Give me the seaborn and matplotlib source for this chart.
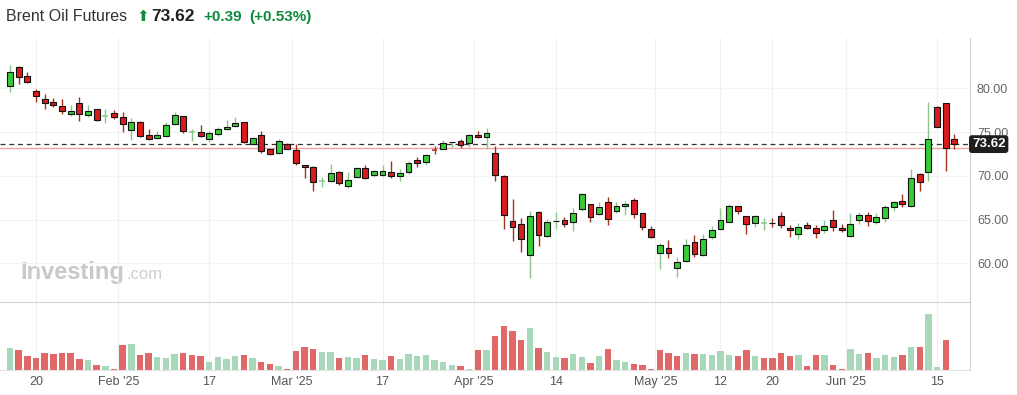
import numpy as np
import pandas as pd
import seaborn as sns
import matplotlib.pyplot as plt

# daily OHLC, one entry per session (mid Jan -> 17 Jun 2025)
open_ = [80.26, 82.40, 81.41, 79.66, 78.74, 78.40, 77.94, 77.10, 78.29, 76.91,
         77.60, 76.83, 77.14, 76.69, 75.27, 76.15, 74.63, 74.29, 74.51, 75.89,
         76.80, 75.00, 74.97, 74.24, 74.81, 75.31, 75.66, 76.11, 73.67, 74.63,
         73.03, 72.57, 73.63, 72.91, 71.20, 70.97, 69.44, 69.37, 70.43, 68.87,
         69.83, 70.86, 70.06, 70.06, 70.40, 69.94, 70.40, 71.81, 71.61, 72.92,
         73.10, 73.86, 73.98, 73.71, 74.66, 74.40, 72.61, 69.98, 64.83, 64.46,
         60.98, 65.86, 63.09, 64.83, 64.95, 64.69, 66.17, 66.74, 65.67, 66.97,
         66.01, 66.51, 67.20, 65.71, 63.95, 61.14, 61.71, 59.43, 60.26, 62.40,
         60.91, 62.97, 63.95, 64.75, 66.51, 65.37, 64.57, 64.64, 64.66, 65.37,
         64.03, 63.38, 64.38, 64.03, 63.77, 64.91, 64.00, 63.09, 64.98, 65.49,
         64.69, 65.14, 66.47, 67.09, 66.51, 70.17, 70.40, 77.86, 78.29, 74.24]
high = [82.66, 82.58, 81.83, 79.92, 79.35, 78.86, 78.78, 78.09, 78.97, 78.09,
        77.63, 77.63, 77.52, 77.29, 76.60, 76.26, 75.31, 75.12, 76.15, 77.29,
        76.80, 75.35, 75.81, 75.12, 75.58, 76.34, 76.75, 76.15, 74.40, 75.15,
        73.06, 74.17, 73.75, 73.67, 71.27, 71.12, 69.90, 71.35, 70.55, 70.43,
        70.97, 71.27, 70.66, 71.23, 71.69, 70.78, 71.66, 72.15, 72.53, 73.44,
        74.09, 73.92, 74.21, 74.78, 75.15, 75.50, 73.41, 70.09, 67.35, 65.21,
        66.01, 65.98, 65.06, 65.86, 65.26, 66.29, 68.00, 66.78, 67.00, 67.58,
        66.97, 67.09, 67.46, 65.75, 64.26, 62.35, 62.63, 60.69, 62.78, 63.23,
        63.35, 64.26, 66.32, 66.78, 66.58, 65.44, 65.55, 65.21, 65.17, 65.86,
        64.41, 64.64, 64.69, 64.38, 64.91, 66.09, 64.53, 65.71, 65.83, 65.86,
        65.71, 66.63, 67.12, 67.92, 70.78, 70.32, 78.47, 77.98, 78.29, 74.81]
low = [79.60, 80.46, 80.57, 78.47, 77.67, 77.90, 77.06, 76.87, 76.30, 76.75,
       76.30, 76.00, 76.49, 75.04, 74.09, 74.43, 74.09, 74.21, 74.47, 75.81,
       74.93, 74.01, 74.47, 73.90, 74.58, 75.23, 75.58, 73.75, 73.60, 72.64,
       72.41, 72.53, 73.03, 71.20, 69.78, 68.30, 68.75, 69.33, 68.91, 68.64,
       69.78, 69.63, 69.90, 70.01, 69.78, 69.44, 70.17, 71.04, 71.27, 72.46,
       73.06, 73.18, 73.18, 73.26, 74.35, 73.10, 69.41, 63.95, 62.51, 61.29,
       58.35, 62.01, 63.04, 63.92, 64.18, 63.69, 65.94, 64.75, 65.55, 64.41,
       65.75, 65.55, 65.21, 63.84, 62.89, 59.31, 60.64, 58.47, 60.18, 60.75,
       60.87, 62.81, 63.84, 64.69, 65.67, 63.38, 64.18, 63.84, 64.18, 64.00,
       63.04, 62.81, 63.89, 62.93, 63.50, 63.73, 63.61, 63.00, 64.53, 64.30,
       64.53, 64.75, 66.01, 66.47, 66.47, 68.26, 69.35, 75.54, 70.58, 73.03]
close = [81.90, 81.26, 80.69, 79.09, 78.29, 78.06, 77.44, 77.40, 77.03, 77.37,
         76.38, 76.84, 76.69, 75.89, 76.11, 74.51, 74.17, 74.63, 75.77, 76.91,
         75.09, 75.01, 74.58, 74.89, 75.31, 75.58, 76.00, 73.90, 74.29, 72.87,
         72.46, 73.94, 73.10, 71.50, 70.97, 69.29, 69.45, 70.29, 69.14, 69.52,
         70.86, 69.78, 70.51, 70.55, 70.01, 70.29, 71.43, 71.50, 72.41, 72.91,
         73.71, 73.90, 73.55, 74.66, 74.40, 74.89, 70.06, 65.49, 64.11, 62.74,
         65.37, 63.20, 64.69, 64.87, 64.53, 65.71, 67.92, 65.26, 66.40, 65.10,
         66.51, 66.74, 65.67, 64.11, 62.97, 62.06, 61.14, 60.11, 62.06, 61.03,
         62.74, 63.77, 64.91, 66.51, 66.01, 64.46, 65.37, 64.65, 64.60, 64.34,
         63.77, 64.11, 64.00, 63.43, 64.23, 64.11, 63.77, 64.53, 65.49, 64.80,
         65.26, 66.40, 66.97, 66.74, 69.71, 69.26, 74.17, 75.54, 73.23, 73.62]
# volume (relative units), today's session has no bar yet
volume = [21.7, 19.7, 13.7, 11.7, 16.7, 15.7, 16.7, 16.7, 10.7, 9.7,
          4.7, 3.7, 0.7, 24.7, 25.7, 14.7, 16.7, 12.7, 11.7, 15.7,
          16.7, 14.7, 13.7, 7.7, 12.7, 10.7, 13.7, 14.7, 11.7, 7.7,
          5.7, 3.7, 0.7, 18.7, 22.7, 20.7, 17.7, 17.7, 11.7, 12.7,
          11.7, 14.7, 10.7, 9.7, 13.7, 10.7, 15.7, 13.7, 14.7, 9.7,
          7.7, 4.7, 3.7, 1.0, 19.7, 19.7, 33.7, 43.7, 38.7, 29.7,
          41.7, 21.7, 17.7, 12.7, 11.7, 15.7, 12.7, 6.7, 13.7, 20.7,
          9.7, 7.7, 5.7, 4.7, 1.0, 20, 17, 14, 17, 16,
          16, 15, 19, 15, 14, 20, 14, 12, 12, 17,
          14, 15, 4, 15, 15, 5, 1, 21, 16, 17,
          12, 15, 13, 15, 23, 23, 56, 3, 30]

tick_pos = [3, 12.5, 23, 32.5, 43, 53.5, 63, 74.5, 82, 88, 96.5, 107]
tick_labels = ["20", "Feb '25", "17", "Mar '25", "17", "Apr '25",
               "14", "May '25", "12", "20", "Jun '25", "15"]
price_ticks = [60, 65, 70, 75, 80]
last_price = 73.62
prev_close = 73.23

GREEN, RED = "#35cc35", "#d91c1c"
GREEN_WICK, RED_WICK = "#8cc68c", "#a8321e"
VOL_UP, VOL_DOWN = "#a8d8ba", "#e06868"

sns.set_style("white")
plt.rcParams['font.family'] = ['Liberation Sans', 'DejaVu Sans']

df = pd.DataFrame({"open": open_, "high": high, "low": low, "close": close})
df["i"] = np.arange(len(df))
df["up"] = df["close"] >= df["open"]
df["cross"] = (df["close"] - df["open"]).abs() < 0.03

vol = pd.DataFrame({"i": np.arange(len(volume)), "volume": volume})
chg = df["close"].diff().fillna(1)[:len(volume)]
vol["dir"] = np.where(chg.values >= 0, "up", "down")

W, H = 1017, 395
fig = plt.figure(figsize=(W / 100, H / 100), dpi=100)
ax = fig.add_axes([0, 1 - 303 / H, 970 / W, (303 - 38) / H])
axv = fig.add_axes([0, 1 - 369.5 / H, 970 / W, (369.5 - 303) / H])

# candles
wick_col = np.where(df["up"], GREEN_WICK, RED_WICK)
ax.vlines(df["i"], df["low"], df["high"], colors=wick_col, lw=1, zorder=2)
body = df[~df["cross"]]
ax.bar(body["i"], (body["close"] - body["open"]).abs(),
       bottom=body[["open", "close"]].min(axis=1), width=0.68,
       color=np.where(body["up"], GREEN, RED), edgecolor="#111111",
       linewidth=0.8, zorder=3)
cr = df[df["cross"]]
ax.hlines(cr["close"], cr["i"] - 0.34, cr["i"] + 0.34,
          colors=np.where(cr["up"], GREEN_WICK, RED_WICK), lw=1.1, zorder=3)

ax.axhline(prev_close, color="#f2a3a3", lw=1, zorder=1.5)
ax.axhline(last_price, color="#333333", lw=0.9, ls=(0, (4, 3)), zorder=1.6)
ax.text(1.002, last_price, f"{last_price:.2f}", transform=ax.get_yaxis_transform(),
        ha="left", va="center", color="white", fontsize=9.5, fontweight="bold",
        bbox=dict(boxstyle="round,pad=0.22", fc="#1e1e1e", ec="none"), zorder=6,
        clip_on=False)

# volume
sns.barplot(data=vol, x="i", y="volume", hue="dir", palette={"up": VOL_UP, "down": VOL_DOWN},
            native_scale=True, dodge=False, width=0.74, saturation=1, legend=False,
            errorbar=None, linewidth=0, ax=axv)

xlim = (-10 / 8.664, (970 - 10) / 8.664)
for a in (ax, axv):
    a.set_xlim(*xlim)
    a.set_xticks(tick_pos)
    a.grid(axis="x", color="#f0f0f0", lw=0.8)
    a.set_axisbelow(True)
    a.spines["top"].set_visible(False)
    a.spines["left"].set_visible(False)
    a.spines["right"].set_color("#d4d4d4")
    a.set_xlabel("")
    a.set_ylabel("")

ax.set_ylim(80 - (303 - 88.3) / 8.75, 80 + (88.3 - 38) / 8.75)
ax.yaxis.tick_right()
ax.set_yticks(price_ticks, [f"{v:.2f}" for v in price_ticks])
ax.grid(axis="y", color="#f3f3f3", lw=0.8)
ax.tick_params(axis="y", length=0, pad=5, labelsize=9, labelcolor="#666666")
ax.tick_params(axis="x", length=0, labelbottom=False)
ax.spines["bottom"].set_color("#c8c8c8")
ax.spines["bottom"].set_linewidth(1.2)

axv.set_ylim(0, 66.5)
axv.set_yticks([])
axv.set_xticklabels(tick_labels)
axv.tick_params(axis="x", length=0, pad=5, labelsize=9, labelcolor="#555555")
axv.spines["bottom"].set_color("#e2e2e2")

# watermark
ax.text(20 / 970, 1 - (279 - 38) / (303 - 38), "Investing", transform=ax.transAxes,
        fontsize=17, fontweight="bold", color="#c8c8c8", va="baseline", zorder=0.5)
ax.text(126 / 970, 1 - (279 - 38) / (303 - 38), ".com", transform=ax.transAxes,
        fontsize=12, color="#cfcfcf", va="baseline", zorder=0.5)

# header
yb = 1 - 21 / H
fig.text(6 / W, yb, "Brent Oil Futures", fontsize=11.5, color="#333333", va="baseline")
fig.text(136 / W, yb, "\u2b06", fontsize=11, color="#0f8a3c", va="baseline", family="DejaVu Sans")
fig.text(151 / W, yb, f"{last_price:.2f}", fontsize=12.5, fontweight="bold", color="#222222", va="baseline")
fig.text(203 / W, yb, "+0.39", fontsize=11, fontweight="bold", color="#0f8a3c", va="baseline")
fig.text(249 / W, yb, "(+0.53%)", fontsize=11, fontweight="bold", color="#0f8a3c", va="baseline")

fig.savefig("out.png", dpi=100, facecolor="white")
